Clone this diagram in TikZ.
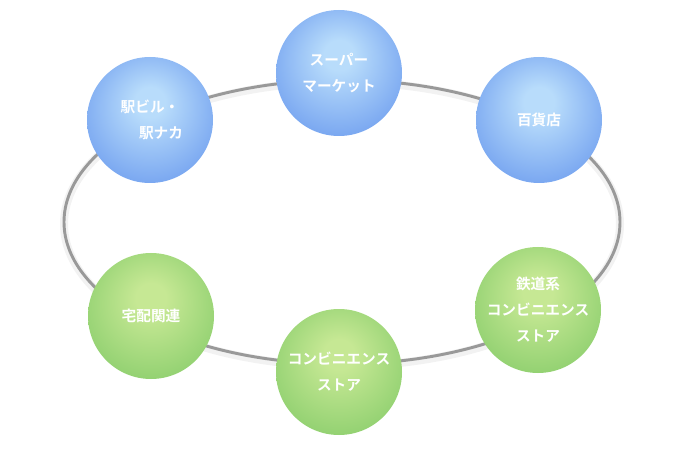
\documentclass[tikz,border=0pt]{standalone}
\usepackage{fontspec}
\newfontfamily\jpfont{Noto Sans CJK JP Bold}
\definecolor{blueA}{RGB}{184,220,251}
\definecolor{blueB}{RGB}{118,164,240}
\definecolor{greenA}{RGB}{198,232,148}
\definecolor{greenB}{RGB}{144,208,112}
\definecolor{ringgray}{RGB}{153,153,153}
\pgfdeclareradialshading{bluesphere}{\pgfpoint{0bp}{8bp}}{%
  color(0bp)=(blueA); color(6bp)=(blueA); color(30bp)=(blueB); color(50bp)=(blueB)}
\pgfdeclareradialshading{greensphere}{\pgfpoint{0bp}{8bp}}{%
  color(0bp)=(greenA); color(6bp)=(greenA); color(30bp)=(greenB); color(50bp)=(greenB)}
\begin{document}
\begin{tikzpicture}[x=0.75pt,y=-0.75pt,
  ball/.style={circle,minimum size=94.5pt,inner sep=0pt,align=center,text=white,
    font=\jpfont\fontsize{11}{19.5}\selectfont},
  blueball/.style={ball,shading=bluesphere},
  greenball/.style={ball,shading=greensphere}]
  \useasboundingbox (0,0) rectangle (700,456);
  % ring
  \draw[line width=6pt,black!5] (342,224) ellipse [x radius=208.5pt,y radius=106.5pt];
  \draw[line width=2.2pt,ringgray] (342,222) ellipse [x radius=208.5pt,y radius=106.5pt];
  % upper row
  \node[blueball] (ekibiru) at (150,120) {駅ビル・\\\hspace{1.5em}駅ナカ};
  \node[blueball] (super) at (339,73) {スーパー\\マーケット};
  \node[blueball] (hyakka) at (539,120) {百貨店};
  % lower row
  \node[greenball] (tetsudo) at (538,310) {鉄道系\\コンビニエンス\\ストア};
  \node[greenball] (konbini) at (339,372) {コンビニエンス\\ストア};
  \node[greenball] (takuhai) at (151,316) {宅配関連};
\end{tikzpicture}
\end{document}
